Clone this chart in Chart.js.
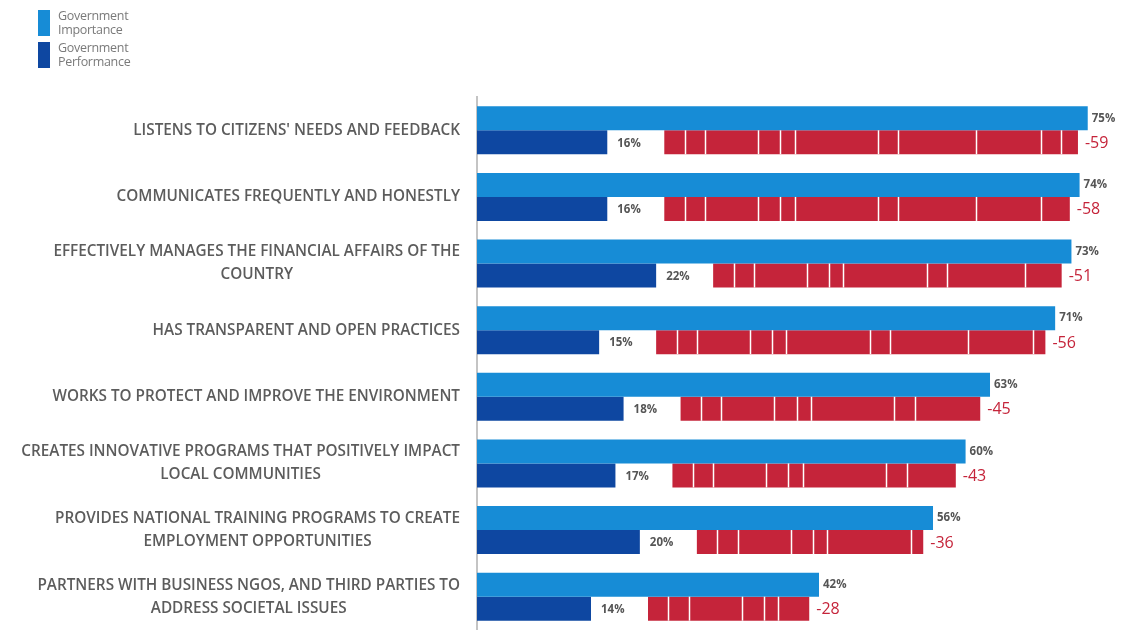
<!DOCTYPE html>
<html>
<head>
<meta charset="utf-8">
<script src="https://cdn.jsdelivr.net/npm/chart.js@4"></script>
<style>
  html, body { margin: 0; padding: 0; background: #fff; overflow: hidden; }
  #wrap { position: relative; width: 1126px; height: 630px; }
  .legend { position: absolute; left: 38px; top: 9px; font: 12.5px "Open Sans", Arial, sans-serif; color: #7a7a7a; letter-spacing: -0.3px; }
  .legend .item { display: flex; align-items: center; margin-bottom: 4px; }
  .legend .swatch { width: 12px; height: 26px; margin-right: 8px; }
  .legend .txt { line-height: 14px; }
</style>
</head>
<body>
<div id="wrap">
  <div class="legend">
    <div class="item"><span class="swatch" style="background:#178CD6"></span><span class="txt">Government<br>Importance</span></div>
    <div class="item"><span class="swatch" style="background:#0E47A1"></span><span class="txt">Government<br>Performance</span></div>
  </div>
  <canvas id="gapChart" width="1126" height="630"></canvas>
</div>
<script>
const categories = [
  "LISTENS TO CITIZENS' NEEDS AND FEEDBACK",
  "COMMUNICATES FREQUENTLY AND HONESTLY",
  ["EFFECTIVELY MANAGES THE FINANCIAL AFFAIRS OF THE", "COUNTRY"],
  "HAS TRANSPARENT AND OPEN PRACTICES",
  "WORKS TO PROTECT AND IMPROVE THE ENVIRONMENT",
  ["CREATES INNOVATIVE PROGRAMS THAT POSITIVELY IMPACT", "LOCAL COMMUNITIES"],
  ["PROVIDES NATIONAL TRAINING PROGRAMS TO CREATE", "EMPLOYMENT OPPORTUNITIES"],
  ["PARTNERS WITH BUSINESS NGOS, AND THIRD PARTIES TO", "ADDRESS SOCIETAL ISSUES"]
]
const importance = [75, 74, 73, 71, 63, 60, 56, 42]
const performance = [16, 16, 22, 15, 18, 17, 20, 14]
const gap = [-59, -58, -51, -56, -45, -43, -36, -28]

const BLUE_LIGHT = "#178CD6"
const BLUE_DARK = "#0E47A1"
const RED = "#C5243A"
const FONT = "'Open Sans', Arial, sans-serif"

// the red gap bar sits after the performance label and stops just short of importance
const GAP_LEAD = 7
const GAP_TRAIL = 1.2
const gapBars = gap.map((g, i) => [importance[i] + g + GAP_LEAD, importance[i] - GAP_TRAIL])

// category labels: each wrapped block centred on itself, right-aligned to the axis
const categoryLabels = {
  id: "categoryLabels",
  afterDraw(chart) {
    const { ctx } = chart
    const y = chart.scales.y
    ctx.save()
    ctx.font = "600 15.3px " + FONT
    ctx.fillStyle = "#5c5c5c"
    ctx.textAlign = "center"
    ctx.textBaseline = "middle"
    categories.forEach((label, i) => {
      const lines = [].concat(label)
      const cy = y.getPixelForValue(i)
      const widest = Math.max(...lines.map(l => ctx.measureText(l).width))
      const cx = y.right - 17 - widest / 2
      lines.forEach((line, j) => {
        ctx.fillText(line, cx, cy + (j - (lines.length - 1) / 2) * 23)
      })
    })
    ctx.restore()
  }
}

// white cuts through the gap bars, plus the value labels
const barDecor = {
  id: "barDecor",
  afterDatasetsDraw(chart) {
    const { ctx } = chart
    const x = chart.scales.x
    const unit = x.getPixelForValue(2.5) - x.getPixelForValue(0)
    const cuts = [1, 1, 2.6, 1.1, 0.7, 4.1, 1, 3.8, 3.2, 1, 1]

    ctx.save()
    chart.getDatasetMeta(2).data.forEach(bar => {
      const left = Math.min(bar.x, bar.base)
      const right = Math.max(bar.x, bar.base)
      const top = bar.y - bar.height / 2
      ctx.strokeStyle = "#fff"
      ctx.lineWidth = 1.5
      let pos = left
      let k = 0
      while (true) {
        pos += cuts[k % cuts.length] * unit
        k++
        if (pos > right - unit * 0.5) break
        ctx.beginPath()
        ctx.moveTo(Math.round(pos) + 0.5, top)
        ctx.lineTo(Math.round(pos) + 0.5, top + bar.height)
        ctx.stroke()
      }
    })

    ctx.textBaseline = "middle"
    ctx.textAlign = "left"
    ctx.font = "bold 11.5px " + FONT
    ctx.fillStyle = "#555"
    chart.getDatasetMeta(0).data.forEach((bar, i) => {
      ctx.fillText(importance[i] + "%", bar.x + 4, bar.y)
    })
    chart.getDatasetMeta(1).data.forEach((bar, i) => {
      ctx.fillText(performance[i] + "%", bar.x + 10, bar.y + 1)
    })
    ctx.font = "16px " + FONT
    ctx.fillStyle = RED
    chart.getDatasetMeta(2).data.forEach((bar, i) => {
      ctx.fillText(String(gap[i]), Math.max(bar.x, bar.base) + 7, bar.y + 1)
    })
    ctx.restore()
  }
}

new Chart(document.getElementById("gapChart"), {
  type: "bar",
  data: {
    labels: categories,
    datasets: [
      { label: "Government Importance", data: importance, backgroundColor: BLUE_LIGHT, stack: "imp" },
      { label: "Government Performance", data: performance, backgroundColor: BLUE_DARK, stack: "gap" },
      { label: "Gap", data: gapBars, backgroundColor: RED, stack: "gap" }
    ]
  },
  options: {
    indexAxis: "y",
    responsive: false,
    animation: false,
    categoryPercentage: 0.72,
    barPercentage: 1,
    layout: { padding: { top: 97, right: 0, bottom: 0, left: 0 } },
    scales: {
      x: {
        display: false,
        stacked: false,
        min: 0,
        max: 79.7
      },
      y: {
        grid: { display: false, drawTicks: false },
        border: { color: "#c4c4c4", width: 2 },
        ticks: { display: false },
        afterFit(scale) { scale.width = 477 }
      }
    },
    plugins: {
      legend: { display: false },
      tooltip: { enabled: false }
    }
  },
  plugins: [categoryLabels, barDecor]
})
</script>
</body>
</html>
